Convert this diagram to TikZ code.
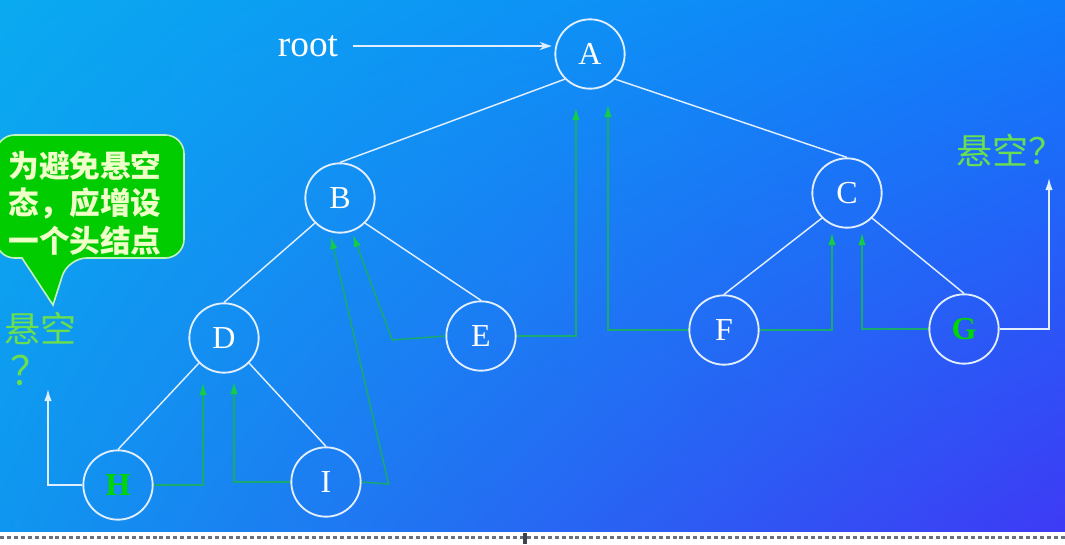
\documentclass[tikz,border=0pt]{standalone}
\usepackage{fontspec}
\setmainfont{Liberation Serif}
\newfontfamily\cjk{Noto Sans CJK SC}
\usetikzlibrary{arrows.meta,shadings}

\definecolor{bgul}{RGB}{10,170,240}
\definecolor{bgll}{RGB}{15,150,240}
\definecolor{bgur}{RGB}{15,125,250}
\definecolor{bglr}{RGB}{62,58,245}
\definecolor{nodeline}{RGB}{225,238,255}
\definecolor{threadgreen}{RGB}{25,170,110}
\definecolor{tipgreen}{RGB}{20,205,70}
\definecolor{nullgreen}{RGB}{105,222,80}
\definecolor{boxgreen}{RGB}{0,204,0}
\definecolor{boxline}{RGB}{190,245,190}
\definecolor{boxtext}{RGB}{238,255,200}
\definecolor{leafgreen}{RGB}{0,215,0}
\definecolor{rulegray}{RGB}{105,112,128}

\begin{document}
\begin{tikzpicture}[x=0.75pt,y=-0.75pt,
    tnode/.style={shape=circle, draw=nodeline, line width=1.4pt, minimum size=52pt, inner sep=0pt, text=white, font=\fontsize{24}{28}\selectfont},
    edge/.style={draw=nodeline, line width=1.1pt},
    thread/.style={draw=threadgreen, line width=1.1pt, -{Latex[color=tipgreen,length=9pt,width=5.5pt]}},
    nullptr/.style={draw=nodeline, line width=1.1pt, -{Latex[length=9pt,width=5.5pt]}},
    nulltext/.style={text=nullgreen, inner sep=0pt, font=\cjk\fontsize{27}{30}\selectfont}]
    \useasboundingbox (0,0) rectangle (1065,544);
    \shade[upper left=bgul, lower left=bgll, upper right=bgur, lower right=bglr] (0,0) rectangle (1065,532);
    \fill[white] (0,532) rectangle (1065,544);
    \draw[rulegray, line width=2.2pt, dash pattern=on 3pt off 2.2pt] (0,537.5) -- (1065,537.5);
    \fill[rulegray!60!black] (523,533) rectangle (527,544);

    \node[tnode] (A) at (590,54) {A};
    \node[tnode] (B) at (340,198) {B};
    \node[tnode] (C) at (847,193) {C};
    \node[tnode] (D) at (224,338) {D};
    \node[tnode] (E) at (481,336) {E};
    \node[tnode] (F) at (724,330) {F};
    \node[tnode] (G) at (964,329) {\textcolor{leafgreen}{\bfseries G}};
    \node[tnode] (H) at (118,485) {\textcolor{leafgreen}{\bfseries H}};
    \node[tnode] (I) at (326,482) {I};

    \node[text=white, font=\fontsize{28}{32}\selectfont] (root) at (308,46) {root};
    \draw[draw=nodeline, line width=1.1pt, -{Stealth[length=9pt,width=6pt]}, shorten <=8pt, shorten >=2pt] (root) -- (root -| A.west);

    \draw[edge] (A.south west) -- (B.north);
    \draw[edge] (A.south east) -- (C.north);
    \draw[edge] (B.south west) -- (D.north);
    \draw[edge] (B.south east) -- (E.north);
    \draw[edge] (C.south west) -- (F.north);
    \draw[edge] (C.south east) -- (G.north);
    \draw[edge] (D.south west) -- (H.north);
    \draw[edge] (D.south east) -- (I.north);

    \coordinate (hD) at (203,383);
    \coordinate (iD) at (234,382);
    \coordinate (iB) at (331,237);
    \coordinate (eB) at (353,235);
    \coordinate (eA) at (576,108);
    \coordinate (fA) at (608,105);
    \coordinate (fC) at (832,233);
    \coordinate (gC) at (862,233);
    \coordinate (hNull) at (48,389);
    \coordinate (gNull) at (1049,178);

    \draw[thread] (H.east) -| (hD);
    \draw[thread] (I.west) -| (iD);
    \draw[thread] (I.east) -- ++(27,2) -- (iB);
    \draw[thread] (E.west) -- ++(-53,4) -- (eB);
    \draw[thread] (E.east) -| (eA);
    \draw[thread] (F.west) -| (fA);
    \draw[thread] (F.east) -| (fC);
    \draw[thread] (G.west) -| (gC);
    \draw[nullptr] (H.west) -| (hNull);
    \draw[nullptr] (G.east) -| (gNull);

    \node[nulltext] (nullH) at (40,328) {悬空};
    \node[nulltext, font=\cjk\fontsize{30}{32}\selectfont] (qH) at (31,370) {？};
    \node[nulltext, anchor=east] (nullG) at (1065,150) {悬空？};

    \draw[fill=boxgreen, draw=boxline, line width=1.2pt, rounded corners=14pt]
        (-4,135) -- (184,135) -- (184,258) -- (68,258) [sharp corners] -- (53,305) -- (22,258) [rounded corners=14pt] -- (-4,258) -- cycle;
    \node[text=boxtext, align=left, font=\cjk\bfseries\fontsize{23}{28}\selectfont] (tip) at (85,203) {为避免悬空\\态，应增设\\一个头结点};
\end{tikzpicture}
\end{document}
